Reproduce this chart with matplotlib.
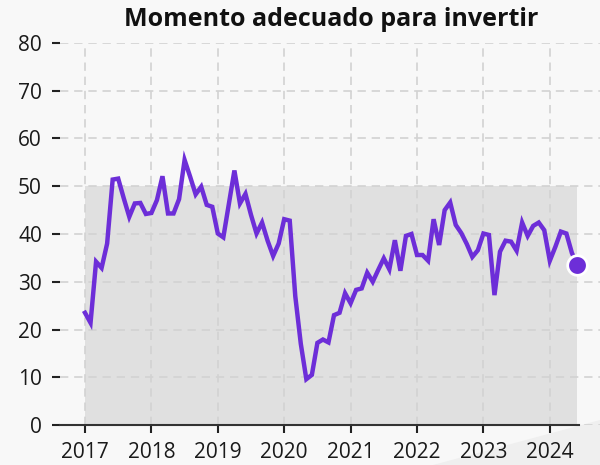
import numpy as np
import matplotlib
matplotlib.use("Agg")
import matplotlib.pyplot as plt
from matplotlib.patches import Polygon

plt.rcParams['font.family'] = ['Open Sans', 'DejaVu Sans']

# monthly values, Jan 2017 .. Jun 2024
values = [
    23.5, 21.4, 34.2, 32.9, 38.0, 51.4, 51.6, 47.5, 43.6, 46.4, 46.5, 44.2,   # 2017
    44.4, 47.1, 52.1, 44.3, 44.3, 47.3, 55.5, 52.0, 48.3, 49.9, 46.1, 45.7,   # 2018
    40.1, 39.3, 46.3, 53.3, 46.4, 48.4, 44.0, 40.1, 42.4, 38.6, 35.4, 38.0,   # 2019
    43.1, 42.8, 27.0, 17.0, 9.6, 10.5, 17.2, 17.9, 17.3, 23.0, 23.5, 27.6,    # 2020
    25.5, 28.3, 28.6, 31.9, 30.0, 32.5, 34.9, 32.6, 38.7, 32.3, 39.6, 40.0,   # 2021
    35.6, 35.6, 34.4, 43.1, 37.7, 45.0, 46.6, 41.9, 40.2, 37.9, 35.2, 36.6,   # 2022
    40.1, 39.8, 27.2, 36.3, 38.6, 38.4, 36.5, 42.4, 39.6, 41.7, 42.4, 40.8,   # 2023
    34.4, 37.3, 40.5, 40.1, 36.0, 33.6,                                       # 2024
]
years = list(range(2017, 2025))
y_ticks = list(range(0, 90, 10))
title = "Momento adecuado para invertir"

# decimal year positions of each month
t = np.array([2017 + i / 12 for i in range(len(values))])

fig = plt.figure(figsize=(6, 4.65), dpi=100)
fig.patch.set_facecolor('#f8f8f8')

# faint wedge at bottom right, behind the axes
wedge = Polygon([(433 / 600, 0), (1, 45 / 465), (1, 0)], closed=True,
                transform=fig.transFigure, facecolor='#efefef', edgecolor='none', zorder=-5)
fig.patches.append(wedge)

ax = fig.add_axes([60 / 600, 40 / 465, 540 / 600, 382 / 465])
ax.set_facecolor('none')
ax.set_zorder(1)

# shaded band 0-50 over the data range
ax.fill_between([t[0], t[-1]], 0, 50, color='#e0e0e0', zorder=0, linewidth=0)

ax.plot(t, values, color='#6d2ed8', linewidth=3.2, solid_joinstyle='miter', zorder=3)
ax.scatter([t[-1]], [values[-1]], s=200, color='#6d2ed8', edgecolor='white',
           linewidth=2, zorder=4, clip_on=False)

ax.set_xlim(2017 - 25 / 66.4, 2017 + 515 / 66.4)
ax.set_ylim(0, 80)
ax.set_xticks(years)
ax.set_yticks(y_ticks)

ax.grid(True, color='#d2d2d2', linestyle=(0, (5, 3.5)), linewidth=1.2, zorder=1)
ax.set_axisbelow(True)

for s in ['top', 'right', 'left']:
    ax.spines[s].set_visible(False)
ax.spines['bottom'].set_color('#333333')
ax.spines['bottom'].set_linewidth(1.5)
ax.spines['bottom'].set_bounds(ax.get_xlim()[0], t[-1] + 0.02)

ax.tick_params(axis='both', direction='out', length=6, width=1.5, color='#222222',
               labelsize=15, labelcolor='#1a1a1a')
ax.tick_params(axis='y', pad=7)
ax.tick_params(axis='x', pad=6)

fig.text(331 / 600, 1 - 19 / 465, title, ha='center', va='center',
         fontsize=18, fontweight='bold', color='#111111')

fig.savefig('out.png', dpi=100, facecolor=fig.get_facecolor())
